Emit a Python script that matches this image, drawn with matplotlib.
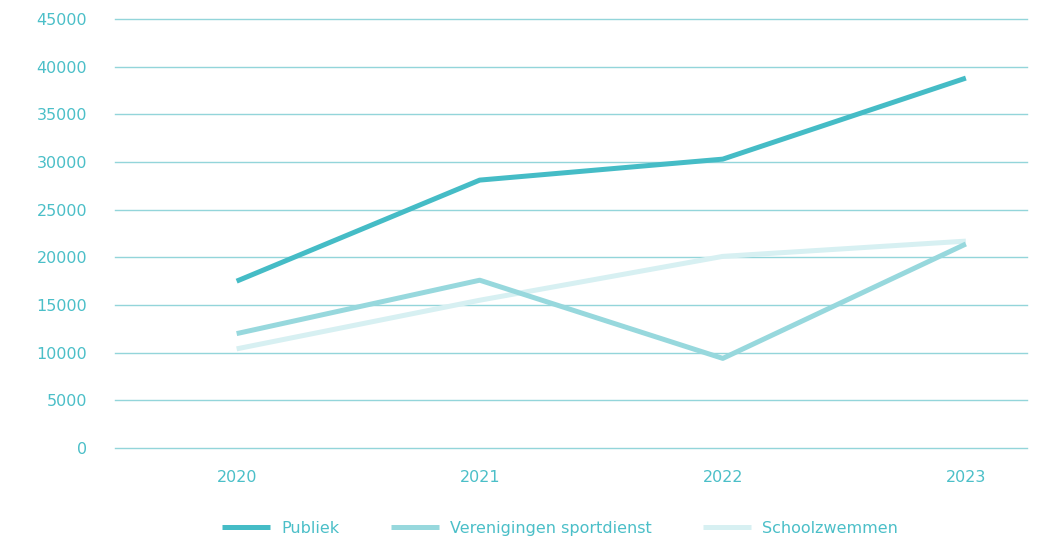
import numpy as np
import matplotlib.pyplot as plt

plt.rcParams['font.family'] = ['DejaVu Sans']

jaren = ["2020", "2021", "2022", "2023"]
publiek = [17500, 28100, 30300, 38800]
verenigingen = [12000, 17600, 9400, 21400]
schoolzwemmen = [10400, 15500, 20100, 21700]
y_ticks = np.arange(0, 45001, 5000)

tekst = "#4bbfc8"
raster = "#93d5da"

fig = plt.figure(figsize=(10.37, 5.42), dpi=100)
ax = fig.add_axes([0.111, 0.1734, 0.879, 0.7916])

x = np.arange(len(jaren))
ax.plot(x, schoolzwemmen, color="#d7f0f2", lw=3.6, label="Schoolzwemmen",
        zorder=3, solid_capstyle="butt")
ax.plot(x, verenigingen, color="#97d8dd", lw=3.6, label="Verenigingen sportdienst",
        zorder=4, solid_capstyle="butt")
ax.plot(x, publiek, color="#45bcc6", lw=3.6, label="Publiek",
        zorder=5, solid_capstyle="butt")

ax.set_xlim(-0.5, 3.25)
ax.set_ylim(0, 45000)
ax.set_yticks(y_ticks)
ax.set_xticks(x)
ax.set_xticklabels(jaren)

# rasterlijnen, ook op de randen zichtbaar
for yt in y_ticks:
    ax.axhline(yt, color=raster, lw=1, zorder=1, clip_on=False)

for s in ax.spines.values():
    s.set_visible(False)
ax.tick_params(axis="both", length=0, colors=tekst, labelsize=11.5)
ax.tick_params(axis="y", pad=20)
ax.tick_params(axis="x", pad=16)

h, l = ax.get_legend_handles_labels()
order = [2, 1, 0]
fig.legend([h[i] for i in order], [l[i] for i in order], loc="lower center",
           bbox_to_anchor=(0.54, -0.015), ncol=3, frameon=False, fontsize=11.5,
           handlelength=3.0, handletextpad=0.7, columnspacing=3.2, labelcolor=tekst)

fig.savefig("out.png", dpi=100)
